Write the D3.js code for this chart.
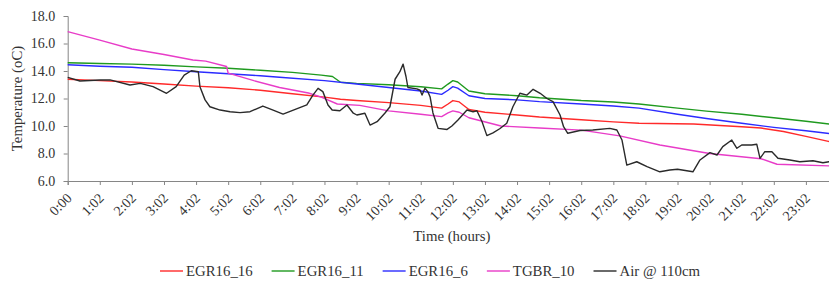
<!DOCTYPE html>
<html>
<head>
<meta charset="utf-8">
<script src="https://cdn.jsdelivr.net/npm/d3@7"></script>
<style>
  html, body { margin: 0; padding: 0; background: #fff; }
  #chart { width: 829px; height: 282px; overflow: hidden; }
  text { font-family: "Liberation Serif", "Times New Roman", serif; fill: #333; }
</style>
</head>
<body>
<div id="chart"></div>
<script>
// Tick labels along the time axis (one per category step)
const timeLabels = ['0:00', '1:02', '2:02', '3:02', '4:02', '5:02', '6:02', '7:02', '8:02', '9:02',
    '10:02', '11:02', '12:02', '13:02', '14:02', '15:02', '16:02', '17:02', '18:02', '19:02',
    '20:02', '21:02', '22:02', '23:02'];
const tempTicks = [6, 8, 10, 12, 14, 16, 18];

// Series (hours from start, temperature in oC)
const egr16_16Hours = [0, 1, 2, 3, 4, 5, 6, 7, 8, 8.5, 9, 10, 11, 11.65, 11.85, 12.0, 12.2, 12.5, 13, 14, 14.7, 16, 17, 17.8, 19.5, 21, 21.6, 22.3, 23, 23.7, 24];
const egr16_16Temp = [13.4, 13.3, 13.2, 13.05, 12.9, 12.78, 12.6, 12.35, 12.1, 11.95, 11.85, 11.7, 11.5, 11.3, 11.6, 11.85, 11.75, 11.2, 11.0, 10.8, 10.65, 10.45, 10.3, 10.2, 10.15, 9.95, 9.85, 9.6, 9.25, 8.88, 8.8];

const egr16_11Hours = [0, 1, 2, 3, 4, 5, 6, 7, 7.9, 8.25, 8.5, 9, 10, 11, 11.65, 11.85, 12.0, 12.15, 12.5, 13, 14, 14.7, 16, 17, 17.8, 19, 19.9, 21, 22, 23, 24];
const egr16_11Temp = [14.6, 14.55, 14.5, 14.42, 14.3, 14.2, 14.05, 13.9, 13.7, 13.6, 13.18, 13.1, 13.0, 12.85, 12.7, 13.05, 13.3, 13.2, 12.55, 12.35, 12.2, 12.05, 11.85, 11.75, 11.6, 11.3, 11.08, 10.85, 10.6, 10.35, 10.07];

const egr16_6Hours = [0, 1, 2, 3, 4, 5, 6, 6.6, 8, 9, 10, 11, 11.65, 11.85, 12.0, 12.15, 12.5, 13, 14, 14.7, 16, 17, 17.8, 19, 19.9, 21, 22, 23, 24];
const egr16_6Temp = [14.45, 14.35, 14.27, 14.1, 13.95, 13.8, 13.65, 13.55, 13.3, 13.05, 12.8, 12.55, 12.3, 12.6, 12.86, 12.75, 12.2, 12.0, 11.9, 11.77, 11.6, 11.45, 11.3, 10.85, 10.55, 10.2, 9.9, 9.65, 9.38];

const tgbr10Hours = [0, 1, 2, 3, 3.9, 4.3, 4.95, 5.0, 5.8, 6.6, 7.5, 7.9, 8.4, 9.1, 10, 11, 11.65, 11.85, 12.0, 12.2, 12.5, 13.5, 14.7, 16, 17.2, 18.45, 20.0, 21.6, 22.1, 24];
const tgbr10Temp = [16.86, 16.25, 15.6, 15.2, 14.8, 14.72, 14.33, 13.85, 13.3, 12.8, 12.4, 12.1, 11.6, 11.5, 11.1, 10.85, 10.68, 10.95, 11.1, 11.0, 10.6, 10.0, 9.85, 9.7, 9.28, 8.62, 8.0, 7.62, 7.22, 7.08];

const airHours = [0, 0.38, 1.01, 1.32, 1.94, 2.26, 2.66, 3.08, 3.38, 3.63, 3.85, 4.07, 4.12, 4.28, 4.43, 4.75,
    5.06, 5.37, 5.68, 6.08, 6.4, 6.71, 7.03, 7.45, 7.64, 7.8, 7.95, 8.11, 8.24, 8.48, 8.7, 8.9,
    9.01, 9.26, 9.42, 9.64, 9.88, 10.04, 10.2, 10.35, 10.45, 10.54, 10.6, 10.88, 10.98, 11.04, 11.13, 11.22, 11.29,
    11.38, 11.54, 11.82, 11.97, 12.16, 12.44, 12.63, 12.75, 12.91, 13.06, 13.25, 13.46, 13.68, 13.87, 14.09, 14.31,
    14.5, 14.72, 14.93, 15.12, 15.34, 15.45, 15.58, 15.96, 16.36, 16.89, 17.11, 17.27, 17.42, 17.73, 18.05,
    18.45, 18.76, 19.0, 19.48, 19.7, 20.01, 20.23, 20.41, 20.69, 20.85, 21.0, 21.31, 21.47, 21.57, 21.72,
    21.94, 22.13, 22.5, 22.81, 23.22, 23.53, 23.72, 24.0];
const airTemp = [13.54, 13.27, 13.35, 13.35, 12.98, 13.1, 12.86, 12.38, 12.86, 13.7, 14.02, 13.95, 12.86, 11.9, 11.4, 11.16,
    11.04, 10.97, 11.04, 11.45, 11.16, 10.87, 11.16, 11.53, 12.25, 12.74, 12.5, 11.53, 11.16, 11.11, 11.53, 10.93,
    10.8, 10.93, 10.07, 10.31, 10.93, 11.4, 13.4, 13.95, 14.5, 13.6, 12.8, 12.7, 12.6, 12.25, 12.74, 12.5, 12.13,
    10.95, 9.83, 9.75, 10.0, 10.44, 11.16, 11.04, 11.11, 10.31, 9.3, 9.5, 9.8, 10.2, 11.4, 12.38, 12.25,
    12.67, 12.38, 12.0, 11.77, 10.8, 9.95, 9.47, 9.67, 9.71, 9.83, 9.71, 8.98, 7.16, 7.4, 7.04,
    6.67, 6.8, 6.85, 6.67, 7.53, 8.06, 7.89, 8.5, 8.98, 8.38, 8.62, 8.62, 8.67, 7.65, 8.13,
    8.13, 7.65, 7.53, 7.4, 7.47, 7.33, 7.4, 7.2];

const seriesNames = ['EGR16_16', 'EGR16_11', 'EGR16_6', 'TGBR_10', 'Air @ 110cm'];
const seriesColors = ['#ff2a2a', '#1f9a1f', '#2b2bff', '#e83cc8', '#2a2a2a'];

function createChart(width, height) {
    d3.select('#chart').selectAll('*').remove();

    const series = [
        { hours: egr16_16Hours, temps: egr16_16Temp },
        { hours: egr16_11Hours, temps: egr16_11Temp },
        { hours: egr16_6Hours, temps: egr16_6Temp },
        { hours: tgbr10Hours, temps: tgbr10Temp },
        { hours: airHours, temps: airTemp }
    ].map((s, i) => ({
        name: seriesNames[i],
        color: seriesColors[i],
        values: s.hours.map((h, j) => ({ h: h, t: s.temps[j] }))
    }));

    // plot area runs slightly past the right edge of the picture
    const plot = { left: 67.7, right: 838, top: 16, bottom: 181 };

    const x = d3.scaleLinear().domain([0, 24]).range([plot.left, plot.right]);
    const y = d3.scaleLinear().domain([6, 18]).range([plot.bottom, plot.top]);

    const svg = d3.select('#chart')
        .append('svg')
        .attr('width', width)
        .attr('height', height);

    // Axes
    const yAxis = svg.append('g')
        .attr('transform', `translate(${plot.left},0)`)
        .call(d3.axisLeft(y).tickValues(tempTicks).tickFormat(d3.format('.1f')).tickSize(4).tickPadding(8.5));

    const xAxis = svg.append('g')
        .attr('transform', `translate(0,${plot.bottom})`)
        .call(d3.axisBottom(x).tickValues(d3.range(timeLabels.length)).tickFormat(i => timeLabels[i]).tickSize(4));

    [xAxis, yAxis].forEach(g => {
        g.select('.domain').attr('stroke', '#868686');
        g.selectAll('.tick line').attr('stroke', '#868686');
        g.selectAll('.tick text')
            .style('font-family', '"Liberation Serif", serif')
            .style('font-size', '14px')
            .attr('fill', '#333');
    });

    // rotated time labels, ending just under each tick
    xAxis.selectAll('.tick text')
        .attr('text-anchor', 'end')
        .attr('x', 0)
        .attr('y', 0)
        .attr('dy', '0.35em')
        .attr('transform', 'translate(1,14.5) rotate(-45)');

    // Lines
    const line = d3.line()
        .x(d => x(d.h))
        .y(d => y(d.t));

    svg.append('g')
        .selectAll('path')
        .data(series)
        .join('path')
        .attr('d', d => line(d.values))
        .attr('fill', 'none')
        .attr('stroke', d => d.color)
        .attr('stroke-width', 1.4)
        .attr('stroke-linejoin', 'round');

    // Axis titles
    svg.append('text')
        .attr('x', (plot.left + plot.right) / 2 - 1)
        .attr('y', 240.5)
        .attr('text-anchor', 'middle')
        .style('font-size', '14.8px')
        .text('Time (hours)');

    svg.append('text')
        .attr('transform', `translate(21.5,${(plot.top + plot.bottom) / 2}) rotate(-90)`)
        .attr('text-anchor', 'middle')
        .style('font-size', '14.8px')
        .text('Temperature (oC)');

    // Legend
    const legend = svg.append('g').attr('transform', 'translate(160,271)');
    let cx = 0;
    series.forEach(s => {
        const item = legend.append('g').attr('transform', `translate(${cx},0)`);
        item.append('line')
            .attr('x1', 0).attr('x2', 23)
            .attr('y1', 0).attr('y2', 0)
            .attr('stroke', s.color)
            .attr('stroke-width', 1.4);
        const label = item.append('text')
            .attr('x', 26)
            .attr('y', 0)
            .attr('dy', '0.35em')
            .style('font-size', '14.8px')
            .text(s.name);
        cx += 26 + label.node().getComputedTextLength() + 19;
    });
}

document.addEventListener('DOMContentLoaded', () => {
    createChart(829, 282);
});
</script>
</body>
</html>
